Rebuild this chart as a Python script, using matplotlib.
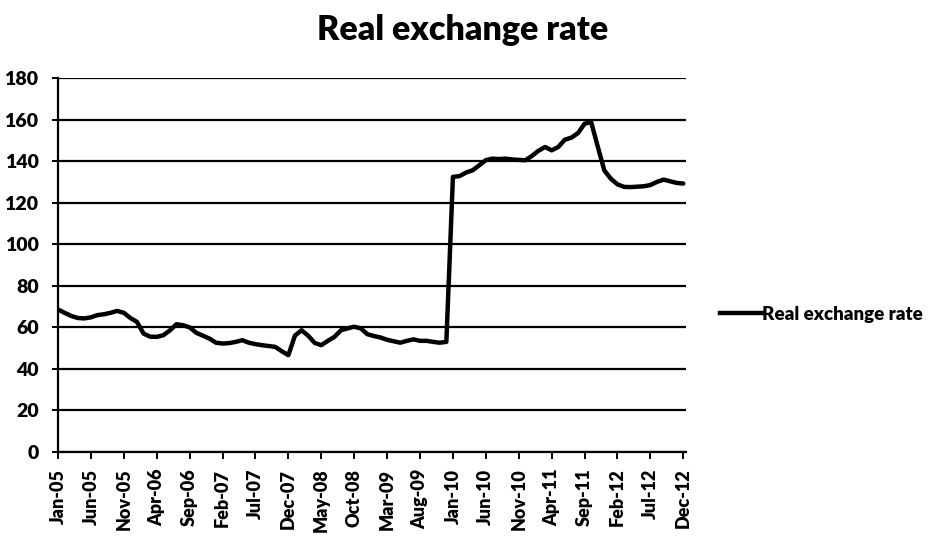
import numpy as np
import matplotlib
matplotlib.use("Agg")
import matplotlib.pyplot as plt
from matplotlib.lines import Line2D

# Monthly real exchange rate, Jan-05 .. Dec-12
months = ["Jan", "Feb", "Mar", "Apr", "May", "Jun", "Jul", "Aug", "Sep", "Oct", "Nov", "Dec"]
years = ["05", "06", "07", "08", "09", "10", "11", "12"]
dates = [f"{m}-{y}" for y in years for m in months]

rer = [
    68.6, 67.0, 65.5, 64.5, 64.3, 64.8, 65.9, 66.3, 67.0, 67.9, 67.0, 64.5,
    62.6, 57.0, 55.5, 55.4, 56.2, 58.5, 61.5, 61.0, 60.0, 57.4, 56.0, 54.6,
    52.6, 52.2, 52.4, 53.0, 53.8, 52.6, 51.9, 51.4, 51.0, 50.6, 48.5, 46.6,
    56.0, 58.6, 56.0, 52.5, 51.4, 53.5, 55.4, 58.6, 59.5, 60.3, 59.5, 56.7,
    55.8, 55.1, 54.0, 53.3, 52.6, 53.5, 54.2, 53.5, 53.5, 53.0, 52.6, 53.0,
    132.4, 132.8, 134.5, 135.6, 138.0, 140.5, 141.2, 141.0, 141.2, 140.8, 140.6, 140.4,
    142.5, 145.0, 146.8, 145.2, 146.8, 150.3, 151.3, 153.5, 158.0, 158.8, 147.0, 135.5,
    131.5, 128.8, 127.6, 127.5, 127.7, 127.9, 128.5, 130.0, 131.1, 130.3, 129.5, 129.2,
]

tick_step = 5
y_ticks = list(range(0, 181, 20))

font = ["Lato", "DejaVu Sans"]

fig = plt.figure(figsize=(9.32, 5.51), dpi=100)
ax = fig.add_axes([0.0622, 0.1797, 0.736 - 0.0622, 0.8584 - 0.1797])

x = np.arange(len(rer))
ax.plot(x, rer, color="black", lw=3.2, solid_capstyle="round", solid_joinstyle="round", zorder=3)

ax.set_ylim(0, 180)
ax.set_xlim(0, 95.4)
ax.set_yticks(y_ticks)
ax.set_yticklabels([str(v) for v in y_ticks], family=font, fontweight="heavy", fontsize=14)
ticks = list(range(0, len(dates), tick_step))
ax.set_xticks(ticks)
ax.set_xticklabels([dates[i] for i in ticks], rotation=90, family=font,
                   fontweight="heavy", fontsize=13)

ax.grid(axis="y", color="black", lw=1.6)
ax.set_axisbelow(True)
for side in ("top", "right"):
    ax.spines[side].set_visible(False)
ax.spines["left"].set_linewidth(1.6)
ax.spines["bottom"].set_linewidth(1.6)
ax.tick_params(axis="y", length=4, width=1.4, pad=10)
ax.tick_params(axis="x", length=5, width=1.4, pad=7)

fig.text(0.496, 0.945, "Real exchange rate", ha="center", va="center",
         family=font, fontweight="heavy", fontsize=24.5)

handle = Line2D([], [], color="black", lw=3.2)
fig.legend([handle], ["Real exchange rate"], loc="center left",
           bbox_to_anchor=(0.765, 0.43), frameon=False, handlelength=2.2,
           handletextpad=0.0, borderaxespad=0,
           prop={"family": font, "weight": "heavy", "size": 13.5})

fig.savefig("out.png", dpi=100)
